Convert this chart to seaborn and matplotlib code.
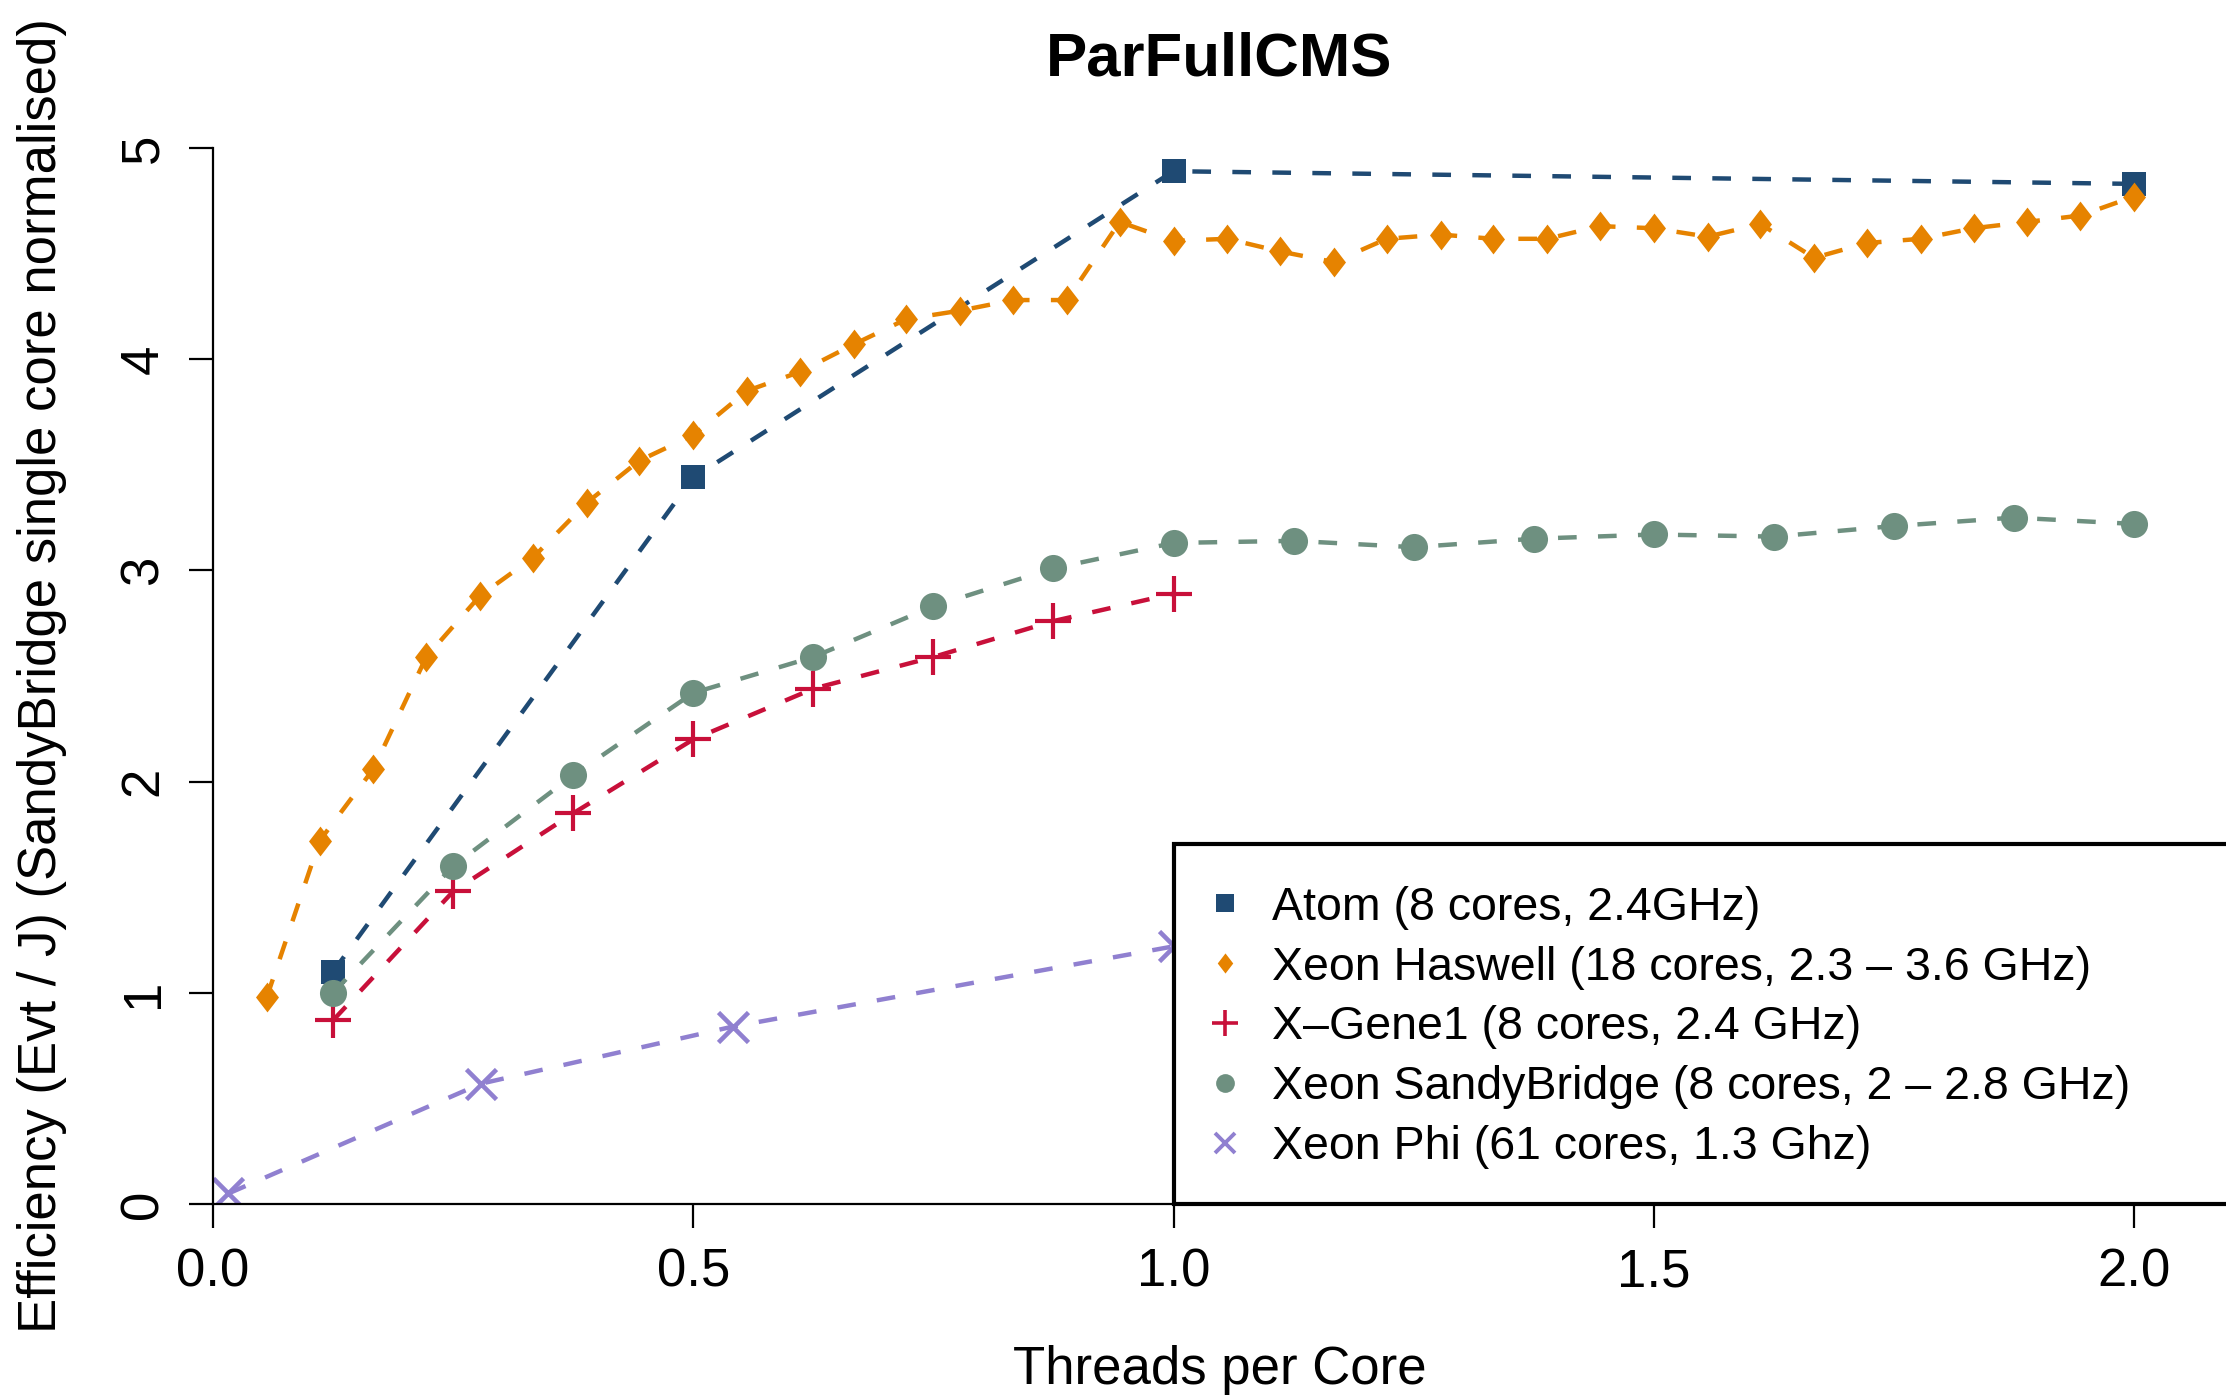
import matplotlib
matplotlib.use("Agg")
import matplotlib.pyplot as plt
from matplotlib.lines import Line2D
from matplotlib.patches import Rectangle
import seaborn as sns

# threads per core / efficiency (Evt/J)
atom_x = [0.125, 0.5, 1.0, 2.0]
atom_y = [1.10, 3.44, 4.89, 4.83]

haswell_x = [0.056, 0.111, 0.167, 0.222, 0.278, 0.333, 0.389, 0.444, 0.5,
             0.556, 0.611, 0.667, 0.722, 0.778, 0.833, 0.889, 0.944, 1.0,
             1.056, 1.111, 1.167, 1.222, 1.278, 1.333, 1.389, 1.444, 1.5,
             1.556, 1.611, 1.667, 1.722, 1.778, 1.833, 1.889, 1.944, 2.0]
haswell_y = [0.98, 1.72, 2.06, 2.59, 2.88, 3.06, 3.32, 3.52, 3.64,
             3.85, 3.94, 4.07, 4.19, 4.23, 4.28, 4.28, 4.65, 4.56,
             4.57, 4.51, 4.46, 4.57, 4.59, 4.57, 4.57, 4.63, 4.62,
             4.58, 4.64, 4.48, 4.55, 4.57, 4.62, 4.65, 4.68, 4.77]

xgene_x = [0.125, 0.25, 0.375, 0.5, 0.625, 0.75, 0.875, 1.0]
xgene_y = [0.87, 1.48, 1.85, 2.20, 2.44, 2.59, 2.76, 2.89]

sandy_x = [0.125, 0.25, 0.375, 0.5, 0.625, 0.75, 0.875, 1.0,
           1.125, 1.25, 1.375, 1.5, 1.625, 1.75, 1.875, 2.0]
sandy_y = [1.00, 1.60, 2.03, 2.42, 2.59, 2.83, 3.01, 3.13,
           3.14, 3.11, 3.15, 3.17, 3.16, 3.21, 3.25, 3.22]

phi_x = [0.016, 0.279, 0.541, 1.0]
phi_y = [0.05, 0.57, 0.84, 1.22]

labels = ["Atom (8 cores, 2.4GHz)",
          "Xeon Haswell (18 cores, 2.3 \u2013 3.6 GHz)",
          "X\u2013Gene1 (8 cores, 2.4 GHz)",
          "Xeon SandyBridge (8 cores, 2 \u2013 2.8 GHz)",
          "Xeon Phi (61 cores, 1.3 Ghz)"]

c_atom = "#1F4A73"
c_has = "#E68300"
c_xg = "#C8103A"
c_sandy = "#6E9080"
c_phi = "#9080D0"

sns.set_theme(style="white")
plt.rcParams['font.family'] = ['Liberation Sans', 'DejaVu Sans']
plt.rcParams['text.color'] = 'black'
plt.rcParams['axes.labelcolor'] = 'black'
plt.rcParams['axes.titlecolor'] = 'black'

diamond = [(0, 1), (0.77, 0), (0, -1), (-0.77, 0)]
dash = (0, (4.2, 4.8))
lw = 3.2

fig = plt.figure(figsize=(22.26, 13.96), dpi=100)
ax = fig.add_axes([0.0957, 0.1375, 0.9043, 0.7565])

sns.lineplot(x=atom_x, y=atom_y, ax=ax, color=c_atom, lw=lw, linestyle=dash,
             marker="s", markersize=17, mec=c_atom, mew=0, errorbar=None)
sns.lineplot(x=haswell_x, y=haswell_y, ax=ax, color=c_has, lw=lw, linestyle=dash,
             marker=diamond, markersize=21.5, mec=c_has, mew=0, errorbar=None)
sns.lineplot(x=xgene_x, y=xgene_y, ax=ax, color=c_xg, lw=lw, linestyle=dash,
             marker="+", markersize=26, mec=c_xg, mew=3.0, errorbar=None)
sns.lineplot(x=sandy_x, y=sandy_y, ax=ax, color=c_sandy, lw=lw, linestyle=dash,
             marker="o", markersize=19.5, mec=c_sandy, mew=0, errorbar=None)
sns.lineplot(x=phi_x, y=phi_y, ax=ax, color=c_phi, lw=lw, linestyle=dash,
             marker="x", markersize=22, mec=c_phi, mew=3.3, errorbar=None)

ax.set_xlim(0, 2.0958)
ax.set_ylim(0, 5)
ax.set_xticks([0, 0.5, 1.0, 1.5, 2.0])
ax.set_xticklabels(["0.0", "0.5", "1.0", "1.5", "2.0"])
ax.set_yticks([0, 1, 2, 3, 4, 5])
ax.set_yticklabels(["0", "1", "2", "3", "4", "5"], rotation=90, va="center")

for s in ["top", "right"]:
    ax.spines[s].set_visible(False)
ax.spines["left"].set_bounds(0, 5)
ax.spines["bottom"].set_bounds(0, 2)
for s in ["left", "bottom"]:
    ax.spines[s].set_linewidth(1.6)
    ax.spines[s].set_color("black")

ax.tick_params(axis="both", which="major", length=17, width=1.6, color="black",
               labelsize=38, labelcolor="black", direction="out")
ax.tick_params(axis="x", pad=14, bottom=True)
ax.tick_params(axis="y", pad=15, left=True)

ax.set_title("ParFullCMS", fontsize=44.5, fontweight="bold", pad=52, color="black")
ax.set_xlabel("Threads per Core", fontsize=38, va="center")
ax.xaxis.set_label_coords(0.5, -0.157)
ax.set_ylabel("Efficiency (Evt / J) (SandyBridge single core normalised)",
              fontsize=38, va="center")
ax.yaxis.set_label_coords(-0.085, 0.5)

# legend box anchored at x=1 on the zero line, running off the right edge
box = Rectangle((1.0, 0), 1.3, 1.705, transform=ax.transData, facecolor="white",
                edgecolor="black", lw=3, zorder=4, clip_on=False)
ax.add_patch(box)

handles = [
    Line2D([], [], ls="none", marker="s", color=c_atom, ms=12.5, mew=0),
    Line2D([], [], ls="none", marker=diamond, color=c_has, ms=14.5, mew=0),
    Line2D([], [], ls="none", marker="+", color=c_xg, ms=19, mew=2.6),
    Line2D([], [], ls="none", marker="o", color=c_sandy, ms=13.5, mew=0),
    Line2D([], [], ls="none", marker="x", color=c_phi, ms=14, mew=2.8),
]
leg = ax.legend(handles, labels, loc="upper left", bbox_to_anchor=(0.540, 0.3655),
                bbox_transform=fig.transFigure, frameon=False, fontsize=33.5,
                borderpad=0, handlelength=1.0, handletextpad=0.5,
                labelspacing=0.34, borderaxespad=0)
leg.set_zorder(6)

fig.savefig("out.png", dpi=100)
